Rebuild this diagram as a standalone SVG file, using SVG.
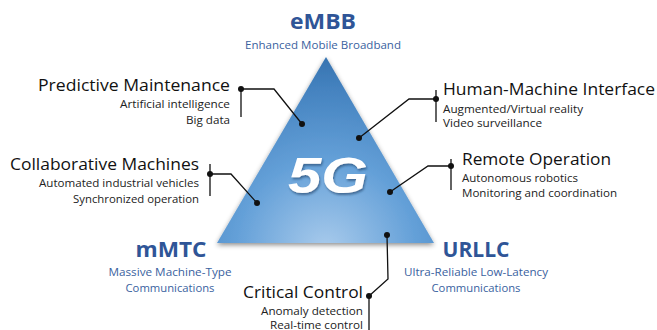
<svg xmlns="http://www.w3.org/2000/svg" width="657" height="330" viewBox="0 0 657 330">
<defs>
<radialGradient id="tri" gradientUnits="userSpaceOnUse" cx="326" cy="250" r="200">
<stop offset="0" stop-color="#a9cbec"/>
<stop offset="0.45" stop-color="#64a0d8"/>
<stop offset="0.8" stop-color="#4583c0"/>
<stop offset="1" stop-color="#3470ad"/>
</radialGradient>
<filter id="sh" x="-20%" y="-20%" width="140%" height="140%">
<feGaussianBlur in="SourceAlpha" stdDeviation="2.5"/>
<feOffset dx="0" dy="2" result="b"/>
<feFlood flood-color="#000" flood-opacity="0.45"/>
<feComposite in2="b" operator="in"/>
<feMerge><feMergeNode/><feMergeNode in="SourceGraphic"/></feMerge>
</filter>
<filter id="ts" x="-20%" y="-20%" width="140%" height="140%">
<feGaussianBlur in="SourceAlpha" stdDeviation="1.2"/>
<feOffset dx="1" dy="1.5" result="b"/>
<feFlood flood-color="#1d3f66" flood-opacity="0.6"/>
<feComposite in2="b" operator="in"/>
<feMerge><feMergeNode/><feMergeNode in="SourceGraphic"/></feMerge>
</filter>
</defs>
<style>
text{font-family:"Open Sans","Noto Sans","Liberation Sans",sans-serif}
.h{font-size:17px;fill:#111}
.s{font-size:11.5px;fill:#222}
.cat{font-size:21px;font-weight:bold;fill:#2f5597}
.cs{font-size:11.5px;fill:#3a62a0}
.ln{fill:none;stroke:#111;stroke-width:1.3}
.dot{fill:#111}
</style>
<g id="triangle">
<polygon points="326,57 217,243 434,243" fill="url(#tri)" filter="url(#sh)"/>
<text x="328" y="193" text-anchor="middle" font-weight="bold" font-style="italic" font-size="50" fill="#fff" filter="url(#ts)" style="font-family:'Liberation Sans',Arial,sans-serif" textLength="80" lengthAdjust="spacingAndGlyphs">5G</text>
</g>
<g id="embb">
<text class="cat" x="323" y="29" text-anchor="middle" textLength="66" lengthAdjust="spacingAndGlyphs">eMBB</text>
<text class="cs" x="323" y="49" text-anchor="middle" textLength="156" lengthAdjust="spacingAndGlyphs">Enhanced Mobile Broadband</text>
</g>
<g id="mmtc">
<text class="cat" x="171" y="257" text-anchor="middle" textLength="71" lengthAdjust="spacingAndGlyphs">mMTC</text>
<text class="cs" x="170" y="276" text-anchor="middle" textLength="123" lengthAdjust="spacingAndGlyphs">Massive Machine-Type</text>
<text class="cs" x="170" y="292" text-anchor="middle" textLength="89" lengthAdjust="spacingAndGlyphs">Communications</text>
</g>
<g id="urllc">
<text class="cat" x="476" y="257" text-anchor="middle" textLength="67" lengthAdjust="spacingAndGlyphs">URLLC</text>
<text class="cs" x="476" y="276" text-anchor="middle" textLength="144" lengthAdjust="spacingAndGlyphs">Ultra-Reliable Low-Latency</text>
<text class="cs" x="476" y="292" text-anchor="middle" textLength="89" lengthAdjust="spacingAndGlyphs">Communications</text>
</g>
<g id="predictive">
<text class="h" x="230" y="91" text-anchor="end" textLength="192" lengthAdjust="spacingAndGlyphs">Predictive Maintenance</text>
<text class="s" x="230" y="108" text-anchor="end" textLength="110" lengthAdjust="spacingAndGlyphs">Artificial intelligence</text>
<text class="s" x="230" y="124" text-anchor="end" textLength="44" lengthAdjust="spacingAndGlyphs">Big data</text>
</g>
<g id="collaborative">
<text class="h" x="199" y="170" text-anchor="end" textLength="189" lengthAdjust="spacingAndGlyphs">Collaborative Machines</text>
<text class="s" x="199" y="187" text-anchor="end" textLength="160" lengthAdjust="spacingAndGlyphs">Automated industrial vehicles</text>
<text class="s" x="199" y="203" text-anchor="end" textLength="126" lengthAdjust="spacingAndGlyphs">Synchronized operation</text>
</g>
<g id="hmi">
<text class="h" x="443" y="95" textLength="212" lengthAdjust="spacingAndGlyphs">Human-Machine Interface</text>
<text class="s" x="443" y="113" textLength="140" lengthAdjust="spacingAndGlyphs">Augmented/Virtual reality</text>
<text class="s" x="443" y="127" textLength="99" lengthAdjust="spacingAndGlyphs">Video surveillance</text>
</g>
<g id="remote">
<text class="h" x="462" y="165" textLength="149" lengthAdjust="spacingAndGlyphs">Remote Operation</text>
<text class="s" x="462" y="182" textLength="116" lengthAdjust="spacingAndGlyphs">Autonomous robotics</text>
<text class="s" x="462" y="197" textLength="155" lengthAdjust="spacingAndGlyphs">Monitoring and coordination</text>
</g>
<g id="critical">
<text class="h" x="363" y="298" text-anchor="end" textLength="120" lengthAdjust="spacingAndGlyphs">Critical Control</text>
<text class="s" x="363" y="315" text-anchor="end" textLength="102" lengthAdjust="spacingAndGlyphs">Anomaly detection</text>
<text class="s" x="363" y="329" text-anchor="end" textLength="93" lengthAdjust="spacingAndGlyphs">Real-time control</text>
</g>
<g id="connectors">
<path class="ln" d="M241,89 V117 M241,89 H274 L302,124"/>
<circle class="dot" cx="241" cy="89" r="3"/><circle class="dot" cx="302" cy="124" r="3"/>
<path class="ln" d="M210,164 V196 M210,174 H231 L257,203"/>
<circle class="dot" cx="210" cy="174" r="3"/><circle class="dot" cx="257" cy="203" r="3"/>
<path class="ln" d="M436,90 V122 M436,99 H409 L359,138"/>
<circle class="dot" cx="436" cy="99" r="3"/><circle class="dot" cx="359" cy="138" r="3"/>
<path class="ln" d="M451,159 V190 M451,166 H428 L390,192"/>
<circle class="dot" cx="451" cy="166" r="3"/><circle class="dot" cx="390" cy="192" r="3"/>
<path class="ln" d="M387,235 L388,279 L369,296 M369,296 V330"/>
<circle class="dot" cx="387" cy="235" r="3"/><circle class="dot" cx="369" cy="296" r="3"/>
</g>
</svg>
